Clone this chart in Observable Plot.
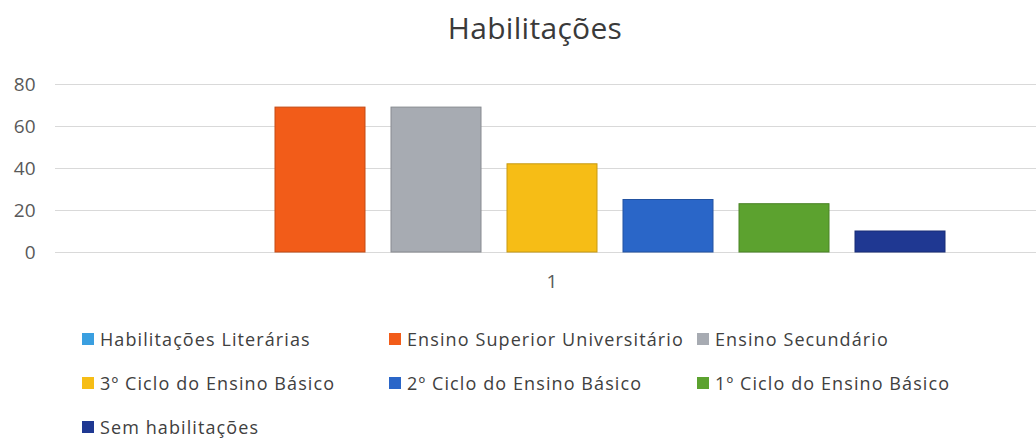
<!DOCTYPE html>
<html>
<head>
<meta charset="utf-8">
<script src="https://cdn.jsdelivr.net/npm/d3@7"></script>
<script src="https://cdn.jsdelivr.net/npm/@observablehq/plot@0.6"></script>
<style>
  html, body { margin: 0; padding: 0; background: #fff; }
  body { width: 1036px; height: 439px; overflow: hidden; font-family: "Open Sans", "Noto Sans", sans-serif; color: #404040; }
  #title { height: 60px; line-height: 56px; text-align: center; font-size: 30px; color: #3a3a3a; padding-left: 34px; box-sizing: border-box; letter-spacing: 0.3px; }
  #legend { display: grid; grid-template-columns: 307px 308px 320px; padding-left: 82px; margin-top: 9px; }
  .item { height: 44px; display: flex; align-items: center; font-size: 18px; letter-spacing: 1.1px; color: #404040; white-space: nowrap; }
  .sw { width: 12px; height: 12px; margin-right: 6px; flex: none; }
</style>
</head>
<body>
<div id="title">Habilitações</div>
<div id="chart"></div>
<div id="legend"></div>
<script>
const categories = [
  "Habilitações Literárias",
  "Ensino Superior Universitário",
  "Ensino Secundário",
  "3º Ciclo do Ensino Básico",
  "2º Ciclo do Ensino Básico",
  "1º Ciclo do Ensino Básico",
  "Sem habilitações"
];
const values = [0, 69, 69, 42, 25, 23, 10];
const colors = ["#3a9fe0", "#f25c19", "#a7abb2", "#f6bd16", "#2a66c8", "#5ca22f", "#1f3892"];
const groupLabel = "1";
const yTicks = [0, 20, 40, 60, 80];

const data = categories.map((c, i) => ({ category: c, value: values[i], group: groupLabel }));

const chart = Plot.plot({
  width: 1036,
  height: 248,
  marginTop: 24,
  marginBottom: 56,
  marginLeft: 55,
  marginRight: 0,
  style: { fontFamily: "'Open Sans', 'Noto Sans', sans-serif", fontSize: "19px", color: "#595959", background: "#fff" },
  fx: { domain: [groupLabel], padding: 0, label: null },
  x: { domain: categories, paddingInner: 0.22, paddingOuter: 0.813, align: 0.537, axis: null },
  y: { domain: [0, 80], ticks: yTicks, label: null },
  color: { domain: categories, range: colors },
  marks: [
    Plot.gridY(yTicks, { stroke: "#d9d9d9", strokeOpacity: 1, strokeWidth: 1 }),
    Plot.axisY(yTicks, { tickSize: 0, tickPadding: 20, fill: "#595959", label: null, fontSize: 19 }),
    Plot.axisFx({ anchor: "bottom", tickSize: 0, tickPadding: 22, fill: "#595959", label: null, fontSize: 19, dx: 6 }),
    Plot.barY(data, {
      fx: "group",
      x: "category",
      y: "value",
      fill: "category",
      stroke: d => d3.color(colors[categories.indexOf(d.category)]).darker(0.6).formatHex(),
      strokeWidth: 1
    })
  ]
});
document.getElementById("chart").appendChild(chart);

const legend = document.getElementById("legend");
categories.forEach((c, i) => {
  const item = document.createElement("div");
  item.className = "item";
  const sw = document.createElement("span");
  sw.className = "sw";
  sw.style.background = colors[i];
  item.appendChild(sw);
  item.appendChild(document.createTextNode(c));
  legend.appendChild(item);
});
</script>
</body>
</html>
